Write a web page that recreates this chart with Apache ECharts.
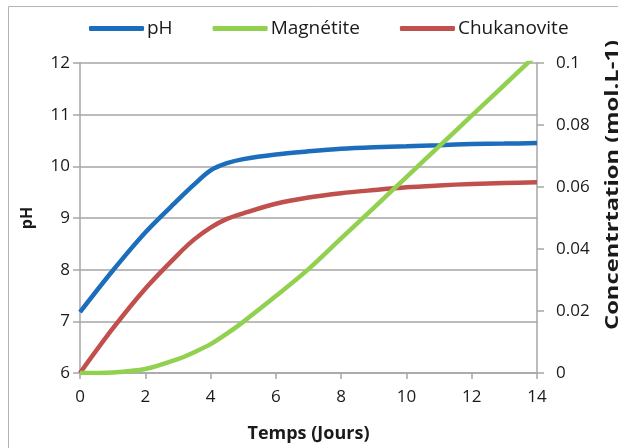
<!DOCTYPE html>
<html>
<head>
<meta charset="utf-8">
<script src="https://cdn.jsdelivr.net/npm/echarts@6/dist/echarts.min.js"></script>
<style>html,body{margin:0;padding:0;background:#fff;}#c{width:618px;height:448px;}</style>
</head>
<body>
<div id="c"></div>
<script>
var days = [0, 1, 2, 3, 3.5, 4, 4.5, 5, 6, 7, 8, 9, 10, 11, 12, 13, 14];
var ph = [7.18, 7.98, 8.72, 9.35, 9.65, 9.92, 10.06, 10.14, 10.23, 10.29, 10.34, 10.37, 10.39, 10.41, 10.43, 10.44, 10.45];
var magnetite = [0, 0.0002, 0.0013, 0.0045, 0.0067, 0.0093, 0.0127, 0.0165, 0.0248, 0.0335, 0.0434, 0.0533, 0.0632, 0.0731, 0.083, 0.0929, 0.1028];
var chukanovite = [0, 0.0143, 0.0272, 0.0382, 0.0431, 0.0469, 0.0497, 0.0515, 0.0546, 0.0566, 0.058, 0.059, 0.0599, 0.0605, 0.061, 0.0613, 0.0615];
var seriesNames = ['pH', 'Magnétite', 'Chukanovite'];
var xTitle = 'Temps (Jours)';
var yLeftTitle = 'pH';
var yRightTitle = 'Concentrtation (mol.L-1)';

function pairs(ys) { return days.map(function (d, i) { return [d, ys[i]]; }); }

var FONT = '"Open Sans", "Noto Sans", sans-serif';
var gridColor = '#a6a6a6';
var chart = echarts.init(document.getElementById('c'), null, { renderer: 'canvas' });
chart.setOption({
  animation: false,
  backgroundColor: '#ffffff',
  textStyle: { fontFamily: FONT },
  grid: { left: 80, right: 81, top: 63, bottom: 68, containLabel: false },
  legend: {
    left: 84, top: 14,
    icon: 'roundRect', itemWidth: 55, itemHeight: 5, itemGap: 40,
    textStyle: { fontSize: 19, color: '#1a1a1a', fontFamily: FONT, padding: [0, 0, 0, -2] },
    data: seriesNames
  },
  xAxis: {
    type: 'value', min: 0, max: 14, interval: 2,
    name: xTitle, nameLocation: 'middle', nameGap: 52,
    nameTextStyle: { fontSize: 18, fontWeight: 'bold', color: '#1a1a1a' },
    axisLine: { show: true, lineStyle: { color: gridColor, width: 1.5 } },
    axisTick: { show: true, length: 6, lineStyle: { color: gridColor, width: 1.5 } },
    axisLabel: { fontSize: 17, color: '#1a1a1a', margin: 16 },
    splitLine: { show: false }
  },
  yAxis: [{
    type: 'value', min: 6, max: 12, interval: 1, position: 'left',
    name: yLeftTitle, nameLocation: 'middle', nameGap: 45, nameRotate: 90,
    nameTextStyle: { fontSize: 16, fontWeight: 'bold', color: '#1a1a1a' },
    axisLine: { show: true, lineStyle: { color: gridColor, width: 1.5 } },
    axisTick: { show: true, length: 7, lineStyle: { color: gridColor, width: 1.5 } },
    axisLabel: { fontSize: 17, color: '#1a1a1a', margin: 10 },
    splitLine: { show: true, lineStyle: { color: gridColor, width: 1.5 } }
  }, {
    type: 'value', min: 0, max: 0.1, interval: 0.02, position: 'right',
    axisLine: { show: true, lineStyle: { color: gridColor, width: 1.5 } },
    axisTick: { show: true, length: 7, lineStyle: { color: gridColor, width: 1.5 } },
    axisLabel: { fontSize: 17, color: '#1a1a1a', margin: 19 },
    splitLine: { show: false }
  }],
  graphic: [{
    type: 'rect', silent: true, z: -1,
    shape: { x: 8.5, y: 6.5, width: 640, height: 460 },
    style: { fill: 'none', stroke: '#b4b4b4', lineWidth: 1 }
  }, {
    type: 'text', silent: true,
    x: 613, y: 185, rotation: Math.PI / 2, scaleX: 1.32,
    style: { text: yRightTitle, fontSize: 18, fontWeight: 'bold', fontFamily: FONT, fill: '#1a1a1a', align: 'center', verticalAlign: 'middle' }
  }],
  series: [{
    name: seriesNames[0], type: 'line', yAxisIndex: 0, data: pairs(ph),
    smooth: 0.3, showSymbol: false, symbol: 'none',
    lineStyle: { color: '#1c6ebc', width: 4.5 }, itemStyle: { color: '#1c6ebc' }, z: 3
  }, {
    name: seriesNames[1], type: 'line', yAxisIndex: 1, data: pairs(magnetite),
    smooth: 0.3, showSymbol: false, symbol: 'none', clip: true,
    lineStyle: { color: '#92d050', width: 4.5 }, itemStyle: { color: '#92d050' }, z: 4
  }, {
    name: seriesNames[2], type: 'line', yAxisIndex: 1, data: pairs(chukanovite),
    smooth: 0.3, showSymbol: false, symbol: 'none',
    lineStyle: { color: '#c0504d', width: 4.5 }, itemStyle: { color: '#c0504d' }, z: 2
  }]
});
</script>
</body>
</html>
